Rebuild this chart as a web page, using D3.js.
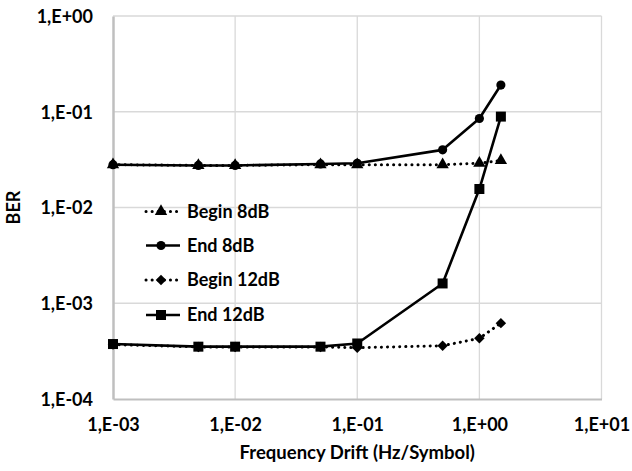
<!DOCTYPE html>
<html><head><meta charset="utf-8">
<script src="https://cdn.jsdelivr.net/npm/d3@7"></script>
<style>body{margin:0;background:#fff}svg{display:block}text{font-family:Lato,"Open Sans",sans-serif;font-weight:bold;fill:#000}</style>
</head><body><svg id="c" width="632" height="471"></svg>
<script>
const xValues = [0.001, 0.005, 0.01, 0.05, 0.1, 0.5, 1, 1.5];
const begin8 = [0.028, 0.0275, 0.0275, 0.028, 0.028, 0.028, 0.029, 0.031];
const end8 = [0.028, 0.0275, 0.0275, 0.0285, 0.029, 0.040, 0.085, 0.19];
const begin12 = [0.00037, 0.00035, 0.00035, 0.00035, 0.000343, 0.00036, 0.00043, 0.00062];
const end12 = [0.000375, 0.000352, 0.000352, 0.000352, 0.00038, 0.00161, 0.0156, 0.089];
const seriesNames = ["Begin 8dB", "End 8dB", "Begin 12dB", "End 12dB"];
const xTickLabels = ["1,E-03", "1,E-02", "1,E-01", "1,E+00", "1,E+01"];
const yTickLabels = ["1,E-04", "1,E-03", "1,E-02", "1,E-01", "1,E+00"];
const xTicks = [1e-3, 1e-2, 1e-1, 1, 10];
const yTicks = [1e-4, 1e-3, 1e-2, 1e-1, 1];

const svg = d3.select("#c");
const L = 113, R = 601.5, T = 16, B = 399;
const FS = "18px";
const x = d3.scaleLog().domain([1e-3, 10]).range([L, R]);
const y = d3.scaleLog().domain([1e-4, 1]).range([B, T]);

// gridlines
const g = svg.append("g");
g.selectAll(".gx").data(xTicks.slice(1)).join("line")
  .attr("x1", d => x(d)).attr("x2", d => x(d)).attr("y1", T).attr("y2", B)
  .attr("stroke", "#d9d9d9").attr("stroke-width", 1.3);
g.selectAll(".gy").data(yTicks.slice(1)).join("line")
  .attr("y1", d => y(d)).attr("y2", d => y(d)).attr("x1", L).attr("x2", R)
  .attr("stroke", "#d9d9d9").attr("stroke-width", 1.3);

// axes
const xa = d3.axisBottom(x).tickValues(xTicks).tickSize(0).tickFormat((d, i) => xTickLabels[i]);
const ya = d3.axisLeft(y).tickValues(yTicks).tickSize(0).tickFormat((d, i) => yTickLabels[i]);
const gx = svg.append("g").attr("transform", `translate(0,${B})`).call(xa);
gx.select(".domain").attr("stroke", "#bfbfbf").attr("stroke-width", 2);
gx.selectAll("text").attr("dy", 0).attr("y", 32).style("font-size", FS);
const gy = svg.append("g").attr("transform", `translate(${L},0)`).call(ya);
gy.select(".domain").attr("stroke", "#bfbfbf").attr("stroke-width", 2.5);
gy.selectAll("text").attr("x", -20).attr("dy", "0.35em").style("font-size", FS);

svg.append("text").attr("x", (L + R) / 2).attr("y", 459).attr("text-anchor", "middle")
  .style("font-size", "18.5px").text("Frequency Drift (Hz/Symbol)");
svg.append("text").attr("transform", `translate(20,${(T + B) / 2}) rotate(-90)`)
  .attr("text-anchor", "middle").style("font-size", FS).text("BER");

const diamond = {draw(ctx, size) { const r = Math.sqrt(size / 2); ctx.moveTo(0, -r); ctx.lineTo(r, 0); ctx.lineTo(0, r); ctx.lineTo(-r, 0); ctx.closePath(); }};
const series = [
  {name: seriesNames[0], vals: begin8, dash: true, sym: d3.symbolTriangle, size: 66},
  {name: seriesNames[1], vals: end8, dash: false, sym: d3.symbolCircle, size: 66},
  {name: seriesNames[2], vals: begin12, dash: true, sym: diamond, size: 55},
  {name: seriesNames[3], vals: end12, dash: false, sym: d3.symbolSquare, size: 100}
];
const line = d3.line().x(d => x(d[0])).y(d => y(d[1]));
function styleLine(sel, s) {
  sel.attr("fill", "none").attr("stroke", "#000").attr("stroke-linejoin", "round");
  if (s.dash) sel.attr("stroke-width", 3).attr("stroke-dasharray", "0.1 6").attr("stroke-linecap", "round");
  else sel.attr("stroke-width", 2.6);
}
series.forEach(s => {
  const pts = xValues.map((v, i) => [v, s.vals[i]]);
  styleLine(svg.append("path").attr("d", line(pts)), s);
  svg.append("g").selectAll("path").data(pts).join("path")
    .attr("d", d3.symbol().type(s.sym).size(s.size))
    .attr("transform", d => `translate(${x(d[0])},${y(d[1])})`).attr("fill", "#000");
});

// legend
const ly = [211.5, 245.5, 280, 315];
series.forEach((s, i) => {
  const lg = svg.append("g").attr("transform", `translate(0,${ly[i]})`);
  styleLine(lg.append("path").attr("d", "M146,0H180"), s);
  lg.append("path").attr("d", d3.symbol().type(s.sym).size(s.size)).attr("transform", "translate(161,0)").attr("fill", "#000");
  lg.append("text").attr("x", 187).attr("dy", "0.35em").style("font-size", FS).text(s.name);
});
</script></body></html>
